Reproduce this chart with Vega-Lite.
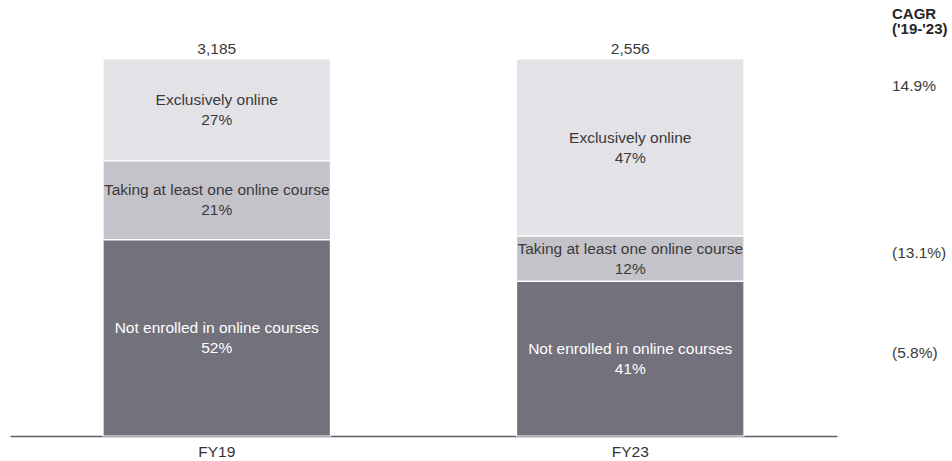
{
  "$schema": "https://vega.github.io/schema/vega-lite/v6.json",
  "background": "white",
  "padding": {"left": 10, "top": 6, "right": 0, "bottom": 0},
  "bounds": "flush",
  "spacing": 55,
  "config": {"font": "Liberation Sans", "view": {"stroke": null}},
  "datasets": {
    "main": [
      {"year": "FY19", "segment": "Exclusively online", "pct": 27, "total": 3185, "cagr": null},
      {"year": "FY19", "segment": "Taking at least one online course", "pct": 21, "total": 3185, "cagr": null},
      {"year": "FY19", "segment": "Not enrolled in online courses", "pct": 52, "total": 3185, "cagr": null},
      {"year": "FY23", "segment": "Exclusively online", "pct": 47, "total": 2556, "cagr": "14.9%"},
      {"year": "FY23", "segment": "Taking at least one online course", "pct": 12, "total": 2556, "cagr": "(13.1%)"},
      {"year": "FY23", "segment": "Not enrolled in online courses", "pct": 41, "total": 2556, "cagr": "(5.8%)"}
    ]
  },
  "resolve": {"scale": {"x": "independent", "y": "independent"}},
  "hconcat": [
    {
      "width": 827,
      "height": 377,
      "data": {"name": "main"},
      "transform": [
        {"calculate": "indexof(['Not enrolled in online courses','Taking at least one online course','Exclusively online'], datum.segment)", "as": "rank"},
        {"stack": "pct", "groupby": ["year"], "sort": [{"field": "rank"}], "as": ["y0", "y1"]},
        {"calculate": "(datum.y0 + datum.y1) / 2", "as": "ymid"},
        {"calculate": "[datum.segment, datum.pct + '%']", "as": "label"}
      ],
      "encoding": {
        "x": {
          "field": "year", "type": "nominal",
          "scale": {"domain": ["FY19", "FY23"], "paddingInner": 0.45, "paddingOuter": 0.225},
          "axis": {"title": null, "labelAngle": 0, "ticks": false, "labelFontSize": 15.5, "labelColor": "#333333", "labelPadding": 8, "domainColor": "#5f5f6b", "domainWidth": 1.5}
        }
      },
      "layer": [
        {
          "mark": {"type": "bar", "stroke": "white", "strokeWidth": 1.2},
          "encoding": {
            "y": {"field": "y0", "type": "quantitative", "scale": {"domain": [0, 100], "nice": false}, "axis": null},
            "y2": {"field": "y1"},
            "color": {
              "field": "segment", "type": "nominal",
              "scale": {"domain": ["Exclusively online", "Taking at least one online course", "Not enrolled in online courses"], "range": ["#e3e2e7", "#c4c3ca", "#72717c"]},
              "legend": null
            }
          }
        },
        {
          "mark": {"type": "text", "fontSize": 15.5, "baseline": "middle", "lineHeight": 20, "dy": -10},
          "encoding": {
            "y": {"field": "ymid", "type": "quantitative", "scale": {"domain": [0, 100], "nice": false}, "axis": null},
            "text": {"field": "label"},
            "color": {"condition": {"test": "datum.segment === 'Not enrolled in online courses'", "value": "white"}, "value": "#3a3a3a"}
          }
        },
        {
          "mark": {"type": "text", "fontSize": 15.5, "baseline": "alphabetic", "dy": -5, "color": "#3a3a3a"},
          "encoding": {
            "y": {"aggregate": "max", "field": "y1", "type": "quantitative", "scale": {"domain": [0, 100], "nice": false}, "axis": null},
            "text": {"aggregate": "max", "field": "total", "type": "quantitative", "format": ","}
          }
        }
      ]
    },
    {
      "width": 60,
      "height": 377,
      "title": {"text": ["CAGR", "('19-'23)"], "anchor": "start", "fontSize": 15, "fontWeight": "bold", "color": "#262626", "lineHeight": 15.5, "baseline": "bottom", "offset": 7},
      "data": {"name": "main"},
      "transform": [
        {"filter": "datum.year === 'FY23'"},
        {"calculate": "indexof(['Not enrolled in online courses','Taking at least one online course','Exclusively online'], datum.segment)", "as": "rank"},
        {"stack": "pct", "groupby": ["year"], "sort": [{"field": "rank"}], "as": ["y0", "y1"]},
        {"calculate": "(datum.y0 + datum.y1) / 2", "as": "ymid"}
      ],
      "layer": [
        {
          "transform": [{"filter": "datum.segment === 'Exclusively online'"}],
          "mark": {"type": "text", "fontSize": 15.5, "align": "left", "baseline": "middle", "dy": 27, "color": "#3a3a3a"},
          "encoding": {
            "x": {"value": 0},
            "y": {"field": "y1", "type": "quantitative", "scale": {"domain": [0, 100], "nice": false}, "axis": null},
            "text": {"field": "cagr"}
          }
        },
        {
          "transform": [{"filter": "datum.segment !== 'Exclusively online'"}],
          "mark": {"type": "text", "fontSize": 15.5, "align": "left", "baseline": "middle", "dy": -6, "color": "#3a3a3a"},
          "encoding": {
            "x": {"value": 0},
            "y": {"field": "ymid", "type": "quantitative", "scale": {"domain": [0, 100], "nice": false}, "axis": null},
            "text": {"field": "cagr"}
          }
        }
      ]
    }
  ]
}
